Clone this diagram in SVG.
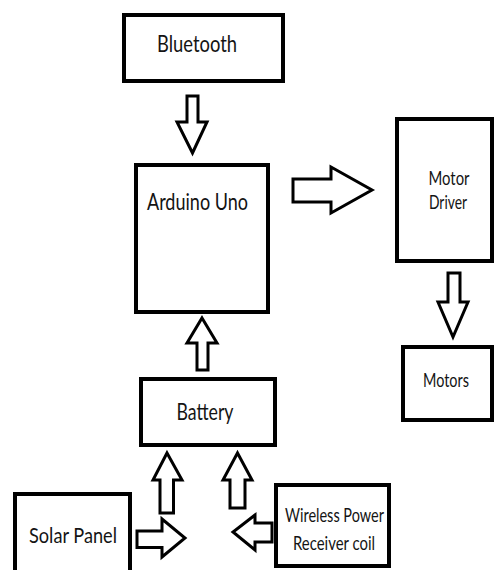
<svg xmlns="http://www.w3.org/2000/svg" width="494" height="570" viewBox="0 0 494 570">
<style>
.box{fill:#fff;stroke:#000;stroke-width:4}
.arr{fill:#fff;stroke:#000;stroke-width:3;stroke-linejoin:miter}
.t{font-family:Lato,"Open Sans","Liberation Sans",sans-serif;fill:#141414;text-anchor:middle}
</style>
<rect width="494" height="570" fill="#fff"/>
<g id="connectors">
<polygon class="arr" points="187,96 198,96 198,122 207,122 192.5,153 177,122 187,122"/>
<polygon class="arr" points="293,179 331,179 331,167 372,190 331,213 331,202 293,202"/>
<polygon class="arr" points="202,318 217,343 208,343 208,370 197,370 197,343 187,343"/>
<polygon class="arr" points="448,273 460,273 460,302 468,302 453,337 438,302 448,302"/>
<polygon class="arr" points="167,453 182,480 173.5,480 173.5,513 160,513 160,480 153,480"/>
<polygon class="arr" points="237.5,453 252,480 245,480 245,508 230,508 230,480 223,480"/>
<polygon class="arr" points="137,531 162,531 162,519 185,538 162,557 162,547.5 137,547.5"/>
<polygon class="arr" points="272,523 255,523 255,515 233,532 255,550 255,542 272,542"/>
</g>
<g id="bluetooth">
<rect class="box" x="124" y="15" width="159" height="66"/>
<text class="t" x="197" y="52" font-size="23" textLength="80" lengthAdjust="spacingAndGlyphs">Bluetooth</text>
</g>
<g id="arduino">
<rect class="box" x="136" y="165" width="132" height="147"/>
<text class="t" x="197.5" y="210" font-size="23" textLength="101" lengthAdjust="spacingAndGlyphs">Arduino Uno</text>
</g>
<g id="motor-driver">
<rect class="box" x="397" y="119" width="95" height="142"/>
<text class="t" x="449" y="185" font-size="19.5" textLength="41" lengthAdjust="spacingAndGlyphs">Motor</text>
<text class="t" x="448" y="209" font-size="19.5" textLength="38" lengthAdjust="spacingAndGlyphs">Driver</text>
</g>
<g id="motors">
<rect class="box" x="403" y="347" width="89" height="73"/>
<text class="t" x="446" y="387" font-size="19.5" textLength="46" lengthAdjust="spacingAndGlyphs">Motors</text>
</g>
<g id="battery">
<rect class="box" x="141" y="379" width="134" height="66"/>
<text class="t" x="205" y="420" font-size="23" textLength="57" lengthAdjust="spacingAndGlyphs">Battery</text>
</g>
<g id="solar-panel">
<rect class="box" x="15" y="494" width="115" height="90"/>
<text class="t" x="73" y="543" font-size="22" textLength="88" lengthAdjust="spacingAndGlyphs">Solar Panel</text>
</g>
<g id="wireless">
<rect class="box" x="276" y="485" width="113" height="81"/>
<text class="t" x="334.5" y="522" font-size="19.5" textLength="99" lengthAdjust="spacingAndGlyphs">Wireless Power</text>
<text class="t" x="334" y="550" font-size="20" textLength="82" lengthAdjust="spacingAndGlyphs">Receiver coil</text>
</g>
</svg>
